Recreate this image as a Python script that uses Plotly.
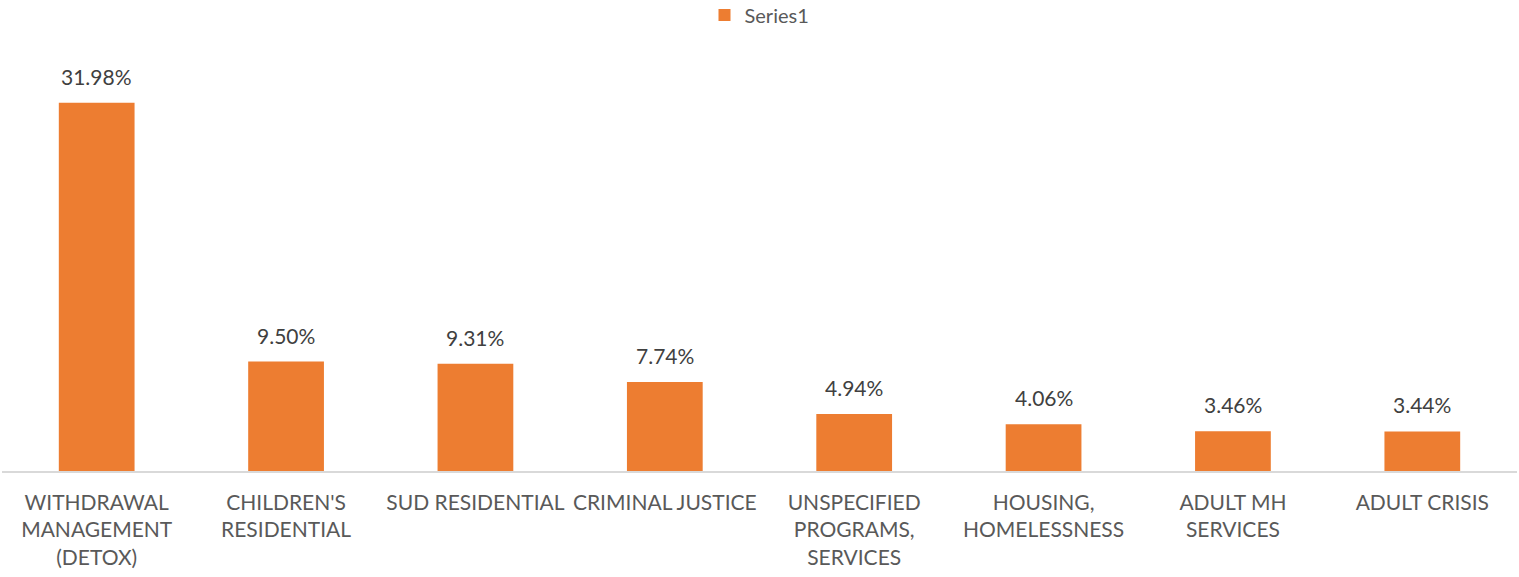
import plotly.graph_objects as go

categories = ["WITHDRAWAL<br>MANAGEMENT<br>(DETOX)", "CHILDREN'S<br>RESIDENTIAL", "SUD RESIDENTIAL",
              "CRIMINAL JUSTICE", "UNSPECIFIED<br>PROGRAMS,<br>SERVICES", "HOUSING,<br>HOMELESSNESS",
              "ADULT MH<br>SERVICES", "ADULT CRISIS"]
values = [31.98, 9.50, 9.31, 7.74, 4.94, 4.06, 3.46, 3.44]
labels = ["%.2f%%" % v for v in values]

font_name = "Lato"

fig = go.Figure()
fig.add_trace(go.Bar(x=categories, y=values, name="Series1",
                     marker=dict(color="#ED7D31", line=dict(width=0)),
                     hoverinfo="skip"))

# data labels sit a bit above each bar, like the Excel original
for c, v, t in zip(categories, values, labels):
    fig.add_annotation(x=c, y=v, text=t, showarrow=False, yanchor="bottom", yshift=12,
                       font=dict(family=font_name, size=21, color="#404040"))

fig.update_layout(
    width=1519, height=577,
    margin=dict(l=2, r=2, t=68, b=106),
    plot_bgcolor="white", paper_bgcolor="white",
    bargap=0.6,
    showlegend=True,
    legend=dict(orientation="h", x=0.5, xanchor="center", y=0.974, yref="container", yanchor="middle",
                font=dict(family=font_name, size=20, color="#595959"), itemwidth=30),
    xaxis=dict(showline=True, linecolor="#D9D9D9", linewidth=1.5, ticks="", ticklabelstandoff=12,
               tickfont=dict(family=font_name, size=21, color="#595959"), fixedrange=True),
    yaxis=dict(range=[0, 35], visible=False, showgrid=False, zeroline=False),
)

# drop the default page margin so the chart fills the window
fig.write_html("out.html", config={"displayModeBar": False},
               post_script="document.body.style.margin='0';")
